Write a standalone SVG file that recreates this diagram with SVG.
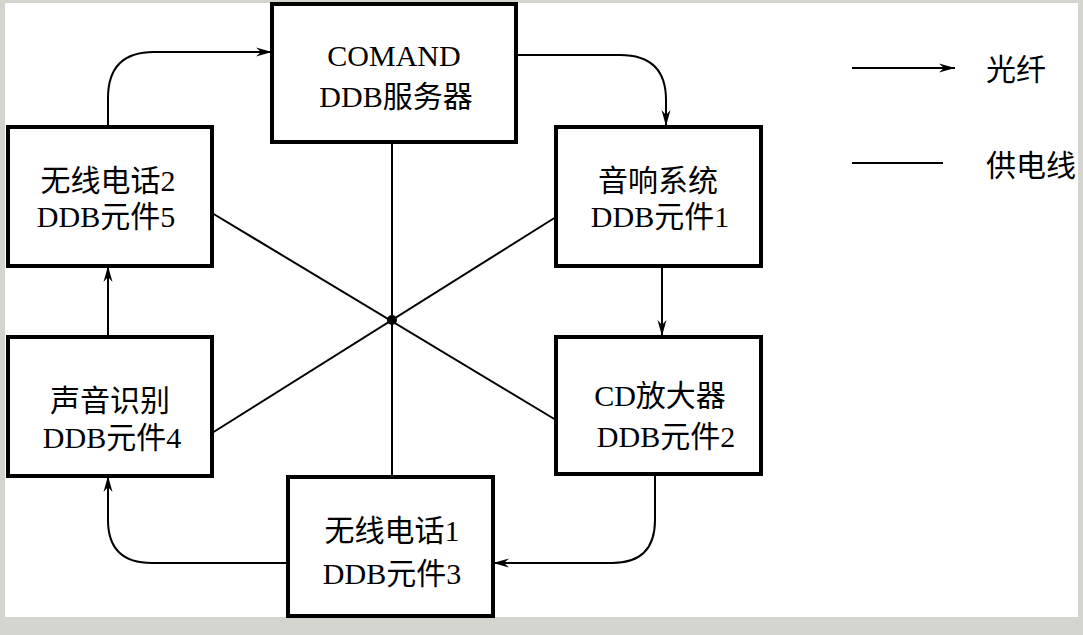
<svg xmlns="http://www.w3.org/2000/svg" width="1083" height="635" viewBox="0 0 1083 635">
<style>
.box{fill:#fff;stroke:#000;stroke-width:4}
.t{font-family:"Liberation Serif","Noto Sans CJK SC",serif;font-size:30px;fill:#000;text-anchor:middle}
.lt{font-family:"Liberation Serif","Noto Sans CJK SC",serif;font-size:30px;fill:#000}
.fib{fill:none;stroke:#000;stroke-width:2;marker-end:url(#ah)}
.pw{fill:none;stroke:#000;stroke-width:2}
</style>
<defs>
<marker id="ah" markerUnits="userSpaceOnUse" markerWidth="18" markerHeight="10" refX="16" refY="5" orient="auto">
<path d="M0,0.5 L16,5 L0,9.5 L5,5 z" fill="#000"/>
</marker>
</defs>
<rect x="0" y="0" width="1083" height="635" fill="#d5d5d0"/>
<rect x="5" y="3" width="1073" height="614" fill="#fff"/>
<g id="connectors">
<line class="pw" x1="392" y1="142" x2="392" y2="476"/>
<line class="pw" x1="212" y1="213" x2="556" y2="420"/>
<line class="pw" x1="212" y1="433" x2="556" y2="217"/>
<circle cx="392" cy="320" r="5" fill="#000"/>
<path class="fib" d="M108,126 V98 Q108,52 154,52 H272"/>
<path class="fib" d="M516,55 H620 Q666,55 666,100 V126"/>
<path class="fib" d="M662,266 V336"/>
<path class="fib" d="M655,474 V520 Q655,563 612,563 H493"/>
<path class="fib" d="M288,563 H152 Q108,563 108,520 V476"/>
<path class="fib" d="M108,336 V266"/>
</g>
<g id="n0"><rect class="box" x="272" y="4" width="244" height="138"/>
<text class="t" x="394" y="66">COMAND</text><text class="t" x="396" y="107">DDB服务器</text></g>
<g id="n1"><rect class="box" x="556" y="127" width="205" height="139"/>
<text class="t" x="658" y="191">音响系统</text><text class="t" x="660" y="227">DDB元件1</text></g>
<g id="n2"><rect class="box" x="556" y="337" width="205" height="137"/>
<text class="t" x="660" y="406">CD放大器</text><text class="t" x="666" y="447">DDB元件2</text></g>
<g id="n3"><rect class="box" x="288" y="477" width="205" height="139"/>
<text class="t" x="392" y="541">无线电话1</text><text class="t" x="392" y="584">DDB元件3</text></g>
<g id="n4"><rect class="box" x="8" y="337" width="204" height="139"/>
<text class="t" x="110" y="411">声音识别</text><text class="t" x="112" y="448">DDB元件4</text></g>
<g id="n5"><rect class="box" x="8" y="127" width="204" height="139"/>
<text class="t" x="108" y="191">无线电话2</text><text class="t" x="106" y="227">DDB元件5</text></g>
<g id="legend">
<path class="fib" d="M852,68 H955"/>
<text class="lt" x="986" y="80">光纤</text>
<line class="pw" x1="852" y1="163" x2="943" y2="163"/>
<text class="lt" x="986" y="176">供电线</text>
</g>
<rect x="1078" y="0" width="5" height="635" fill="#d5d5d0"/>
</svg>
